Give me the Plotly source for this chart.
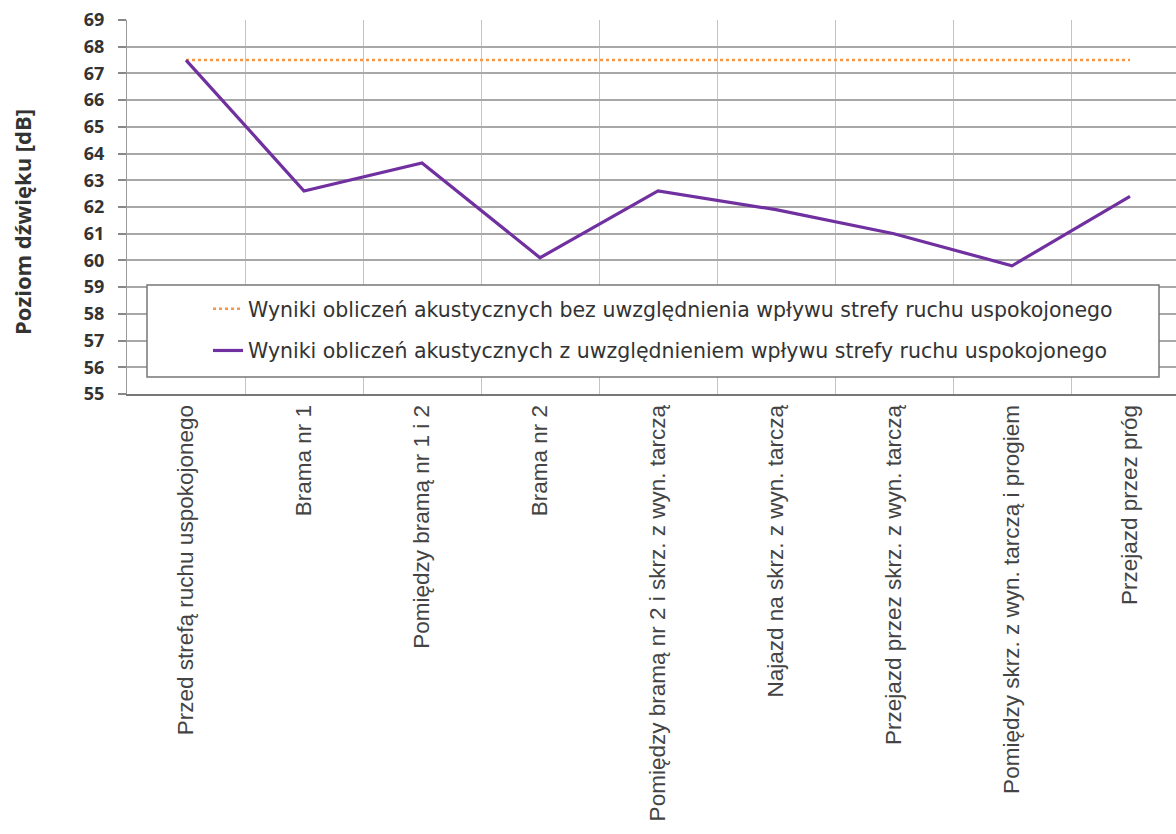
import plotly.graph_objects as go

categories = [
    "Przed strefą ruchu uspokojonego",
    "Brama nr 1",
    "Pomiędzy bramą nr 1 i 2",
    "Brama nr 2",
    "Pomiędzy bramą nr 2 i skrz. z wyn. tarczą",
    "Najazd na skrz. z wyn. tarczą",
    "Przejazd przez skrz. z wyn. tarczą",
    "Pomiędzy skrz. z wyn. tarczą i progiem",
    "Przejazd przez próg",
]
bez_uwzgl = [67.5, 67.5, 67.5, 67.5, 67.5, 67.5, 67.5, 67.5, 67.5]
z_uwzgl = [67.5, 62.6, 63.65, 60.1, 62.6, 61.9, 61.0, 59.8, 62.4]

name_bez = "Wyniki obliczeń akustycznych bez uwzględnienia wpływu strefy ruchu uspokojonego"
name_z = "Wyniki obliczeń akustycznych z uwzględnieniem wpływu strefy ruchu uspokojonego"

W, H = 1176, 834
L, T, B = 127, 20, 440
pw = W - L
ph = H - T - B

def px(x):
    return (x - L) / pw

def py(y):
    return (H - B - y) / ph

fig = go.Figure()
fig.add_trace(go.Scatter(
    x=categories, y=bez_uwzgl, mode="lines", name=name_bez,
    line=dict(color="#F79646", width=2.5, dash="dot"), legendgroup="a",
))
fig.add_trace(go.Scatter(
    x=categories, y=z_uwzgl, mode="lines", name=name_z,
    line=dict(color="#7030A0", width=3.2), legendgroup="b",
))

fig.update_layout(
    width=W, height=H,
    margin=dict(l=L, r=0, t=T, b=B, autoexpand=False),
    paper_bgcolor="white", plot_bgcolor="white",
    showlegend=True,
    legend=dict(
        x=px(208), y=py(289), xanchor="left", yanchor="top",
        bgcolor="rgba(0,0,0,0)", borderwidth=0,
        font=dict(family="DejaVu Sans", size=20.5, color="#333"),
        tracegroupgap=12,
    ),
    shapes=[dict(
        type="rect", xref="paper", yref="paper",
        x0=px(147), x1=px(1159), y0=py(377), y1=py(285),
        line=dict(color="#777", width=1.5), fillcolor="white", layer="above",
    )],
    annotations=[dict(
        text="<b>Poziom dźwięku [dB]</b>", xref="paper", yref="paper",
        x=px(22), y=py(222), xanchor="center", yanchor="middle",
        textangle=-90, showarrow=False,
        font=dict(family="Open Sans", size=22, color="#333"),
    )],
)

fig.update_xaxes(
    type="category", range=[-0.5, (W - L) / 118 - 0.5],
    tickson="boundaries", showgrid=True, gridcolor="#c4c4c4", gridwidth=1,
    tickangle=-90, ticks="", showline=True, linecolor="#777", linewidth=2,
    tickfont=dict(family="Liberation Sans", size=22.5, color="#444"),
    zeroline=False,
)
fig.update_yaxes(
    range=[55, 69], dtick=1, showgrid=True, gridcolor="#a8a8a8", gridwidth=2,
    ticks="outside", ticklen=8, tickcolor="#888", tickwidth=1.5,
    ticklabelstandoff=10,
    showline=True, linecolor="#999", linewidth=1,
    tickfont=dict(family="Open Sans", size=18, color="#333", weight="bold"),
    zeroline=False,
)

fig.write_html("out.html")
